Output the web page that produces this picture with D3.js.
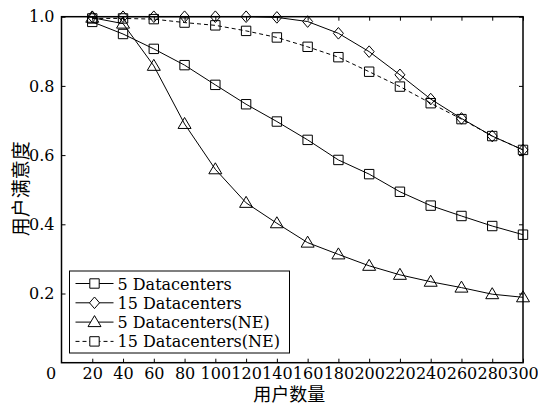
<!DOCTYPE html>
<html>
<head>
<meta charset="utf-8">
<script src="https://cdn.jsdelivr.net/npm/d3@7"></script>
<style>
  body { margin: 0; background: #fff; }
  svg { display: block; }
</style>
</head>
<body>
<div id="chart"></div>
<script>
// Data
const users = [20, 40, 60, 80, 100, 120, 140, 160, 180, 200, 220, 240, 260, 280, 300];
const dc5 = [0.985, 0.95, 0.907, 0.86, 0.803, 0.747, 0.697, 0.644, 0.586, 0.545, 0.494, 0.454, 0.424, 0.395, 0.37];
const dc15 = [1.0, 1.0, 1.0, 1.0, 1.0, 1.0, 0.998, 0.986, 0.952, 0.899, 0.832, 0.762, 0.706, 0.655, 0.615];
const dc5NE = [0.997, 0.98, 0.858, 0.69, 0.559, 0.462, 0.403, 0.347, 0.313, 0.28, 0.254, 0.234, 0.217, 0.198, 0.189];
const dc15NE = [0.995, 0.995, 0.993, 0.983, 0.975, 0.959, 0.94, 0.913, 0.883, 0.841, 0.798, 0.75, 0.704, 0.655, 0.615];
const seriesNames = ["5 Datacenters", "15 Datacenters", "5 Datacenters(NE)", "15 Datacenters(NE)"];
const xTicks = [0, 20, 40, 60, 80, 100, 120, 140, 160, 180, 200, 220, 240, 260, 280, 300];
const yTicks = [0.2, 0.4, 0.6, 0.8, 1.0];

const W = 538, H = 407;
const margin = { top: 16.7, right: 15, bottom: 44.3, left: 61.5 },
    width = W - margin.left - margin.right,
    height = H - margin.top - margin.bottom;

const serif = "'DejaVu Serif', serif";
const cjk = "'Noto Sans CJK SC', sans-serif";

var x = d3.scaleLinear().domain([0, 300]).range([0, width]);
var y = d3.scaleLinear().domain([0, 1]).range([height, 0]);

var svg = d3.select("#chart").append("svg")
    .attr("width", W).attr("height", H)
    .append("g")
    .attr("transform", "translate(" + margin.left + "," + margin.top + ")");

// marker shapes
function marker(type) {
    if (type === "square") return "M-4.7,-4.7H4.7V4.7H-4.7Z";
    if (type === "diamond") return "M0,-5.8L5,0L0,5.8L-5,0Z";
    return "M0,-6.5L6.5,4.5H-6.5Z";
}

const series = [
    { name: seriesNames[0], values: dc5, shape: "square", dash: null },
    { name: seriesNames[1], values: dc15, shape: "diamond", dash: null },
    { name: seriesNames[2], values: dc5NE, shape: "triangle", dash: null },
    { name: seriesNames[3], values: dc15NE, shape: "square", dash: "4,3" }
];

var line = d3.line()
    .x(function(d) { return x(d[0]); })
    .y(function(d) { return y(d[1]); });

series.forEach(function(s) {
    var pts = users.map(function(u, i) { return [u, s.values[i]]; });
    svg.append("path")
        .attr("d", line(pts))
        .attr("fill", "none")
        .attr("stroke", "#000")
        .attr("stroke-width", 1)
        .attr("stroke-dasharray", s.dash);
    svg.selectAll(null)
        .data(pts)
        .enter().append("path")
        .attr("d", marker(s.shape))
        .attr("transform", function(d) { return "translate(" + x(d[0]) + "," + y(d[1]) + ")"; })
        .attr("fill", "none")
        .attr("stroke", "#000")
        .attr("stroke-width", 1);
});

// axes with inward ticks
var xAxis = svg.append("g")
    .attr("transform", "translate(0," + height + ")")
    .call(d3.axisBottom(x).tickValues(xTicks).tickSizeInner(-4).tickSizeOuter(0).tickPadding(5));
xAxis.selectAll("text")
    .style("font-family", serif).style("font-size", "16px").attr("fill", "#000")
    .attr("dx", function(d) { return d === 0 ? -11 : 0; });
xAxis.selectAll(".tick").filter(function(d) { return d === 0; }).select("line").remove();

var yAxis = svg.append("g")
    .call(d3.axisLeft(y).tickValues(yTicks).tickFormat(d3.format(".1f")).tickSizeInner(-4).tickSizeOuter(0).tickPadding(7));
yAxis.selectAll("text")
    .style("font-family", serif).style("font-size", "16px").attr("fill", "#000");

svg.append("g")
    .call(d3.axisTop(x).tickValues(xTicks.slice(1)).tickSizeInner(-4).tickSizeOuter(0).tickFormat(""));
svg.append("g")
    .attr("transform", "translate(" + width + ",0)")
    .call(d3.axisRight(y).tickValues(yTicks).tickSizeInner(-4).tickSizeOuter(0).tickFormat(""));

svg.selectAll(".domain").remove();
svg.append("rect")
    .attr("width", width).attr("height", height)
    .attr("fill", "none").attr("stroke", "#000").attr("stroke-width", 1.5);

// axis labels
svg.append("text")
    .attr("x", width / 2 - 3).attr("y", height + 38.3)
    .attr("text-anchor", "middle")
    .style("font-family", cjk).style("font-size", "18px")
    .text("用户数量");
svg.append("text")
    .attr("transform", "translate(" + (-34) + "," + (height / 2 - 1) + ") rotate(-90)")
    .attr("text-anchor", "middle")
    .style("font-family", cjk).style("font-size", "19px")
    .text("用户满意度");

// legend
var lg = svg.append("g").attr("transform", "translate(" + (69.5 - margin.left) + "," + (271 - margin.top) + ")");
lg.append("rect")
    .attr("width", 220).attr("height", 82)
    .attr("fill", "#fff").attr("stroke", "#000").attr("stroke-width", 1);
series.forEach(function(s, i) {
    var yy = 12.5 + i * 19.3;
    lg.append("line")
        .attr("x1", 6).attr("x2", 44).attr("y1", yy).attr("y2", yy)
        .attr("stroke", "#000").attr("stroke-width", 1)
        .attr("stroke-dasharray", s.dash);
    lg.append("path")
        .attr("d", marker(s.shape))
        .attr("transform", "translate(25," + yy + ")")
        .attr("fill", "#fff").attr("stroke", "#000");
    lg.append("text")
        .attr("x", 48).attr("y", yy + 6)
        .style("font-family", serif).style("font-size", "16px")
        .text(s.name);
});
</script>
</body>
</html>
